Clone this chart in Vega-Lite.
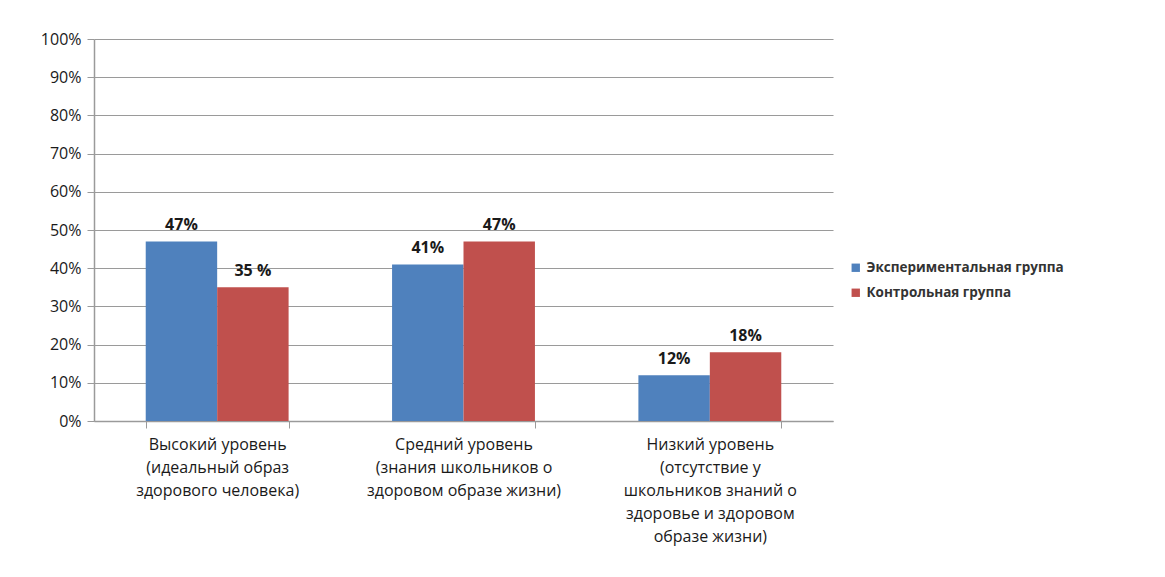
{
  "$schema": "https://vega.github.io/schema/vega-lite/v6.json",
  "width": 739,
  "height": 382,
  "padding": {"left": 40, "top": 31, "right": 5, "bottom": 5},
  "background": "white",
  "config": {
    "view": {"stroke": null},
    "font": "Open Sans"
  },
  "data": {
    "values": [
      {"level": "Высокий уровень|(идеальный образ|здорового человека)", "group": "Экспериментальная группа", "value": 47, "label": "47%"},
      {"level": "Высокий уровень|(идеальный образ|здорового человека)", "group": "Контрольная группа", "value": 35, "label": "35 %"},
      {"level": "Средний уровень|(знания школьников о|здоровом образе жизни)", "group": "Экспериментальная группа", "value": 41, "label": "41%"},
      {"level": "Средний уровень|(знания школьников о|здоровом образе жизни)", "group": "Контрольная группа", "value": 47, "label": "47%"},
      {"level": "Низкий уровень|(отсутствие у|школьников знаний о|здоровье и здоровом|образе жизни)", "group": "Экспериментальная группа", "value": 12, "label": "12%"},
      {"level": "Низкий уровень|(отсутствие у|школьников знаний о|здоровье и здоровом|образе жизни)", "group": "Контрольная группа", "value": 18, "label": "18%"}
    ]
  },
  "encoding": {
    "x": {
      "field": "level",
      "type": "nominal",
      "sort": null,
      "title": null,
      "scale": {"paddingInner": 0.42, "paddingOuter": 0.21},
      "axis": {
        "labelExpr": "split(datum.label, '|')",
        "labelAngle": 0,
        "labelFontSize": 16,
        "labelLineHeight": 23,
        "labelColor": "#1a1a1a",
        "labelPadding": 8,
        "labelLimit": 300,
        "domainColor": "#9a9a9a",
        "domainWidth": 1.5,
        "ticks": true,
        "tickBand": "extent",
        "tickColor": "#9a9a9a",
        "tickSize": 7,
        "grid": false
      }
    },
    "xOffset": {"field": "group", "type": "nominal", "sort": ["Экспериментальная группа", "Контрольная группа"], "scale": {"paddingInner": 0}},
    "y": {
      "field": "value",
      "type": "quantitative",
      "title": null,
      "scale": {"domain": [0, 100], "nice": false},
      "axis": {
        "values": [0, 10, 20, 30, 40, 50, 60, 70, 80, 90, 100],
        "labelExpr": "datum.value + '%'",
        "labelFontSize": 16,
        "labelColor": "#1a1a1a",
        "labelPadding": 6,
        "domainColor": "#9a9a9a",
        "domainWidth": 1.5,
        "tickColor": "#9a9a9a",
        "tickSize": 7,
        "gridColor": "#9a9a9a",
        "gridWidth": 1.2
      }
    }
  },
  "layer": [
    {
      "mark": {"type": "bar"},
      "encoding": {
        "color": {
          "field": "group",
          "type": "nominal",
          "sort": ["Экспериментальная группа", "Контрольная группа"],
          "scale": {"domain": ["Экспериментальная группа", "Контрольная группа"], "range": ["#4F81BD", "#C0504D"]},
          "legend": {
            "title": null,
            "symbolType": "square",
            "symbolSize": 70,
            "labelFontSize": 13.5,
            "labelFontWeight": "bold",
            "labelColor": "#333333",
            "rowPadding": 10,
            "orient": "none",
            "legendX": 755,
            "legendY": 222,
            "labelLimit": 300
          }
        }
      }
    },
    {
      "mark": {"type": "text", "baseline": "bottom", "dy": -8, "fontSize": 16, "fontWeight": "bold", "color": "#1a1a1a"},
      "encoding": {
        "text": {"field": "label"}
      }
    }
  ]
}
